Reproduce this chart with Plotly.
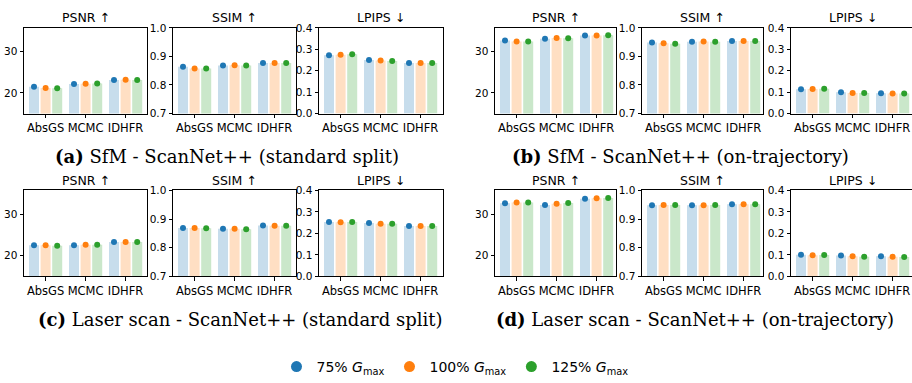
import plotly.graph_objects as go
import numpy as np

W, H = 912, 383

methods = ["AbsGS", "MCMC", "IDHFR"]
series = ["75% <i>G</i><sub>max</sub>", "100% <i>G</i><sub>max</sub>", "125% <i>G</i><sub>max</sub>"]
metrics = ["PSNR ↑", "SSIM ↑", "LPIPS ↓"]

# values per series (75%, 100%, 125%), each over the 3 methods
psnr_a = [[21.45, 22.15, 23.1], [21.2, 22.2, 23.15], [21.1, 22.25, 23.1]]
ssim_a = [[0.864, 0.868, 0.877], [0.858, 0.869, 0.877], [0.858, 0.868, 0.877]]
lpips_a = [[0.273, 0.250, 0.236], [0.275, 0.248, 0.236], [0.277, 0.246, 0.236]]

psnr_b = [[32.7, 33.1, 33.9], [32.4, 33.3, 33.85], [32.4, 33.2, 33.95]]
ssim_b = [[0.949, 0.952, 0.954], [0.946, 0.953, 0.954], [0.945, 0.952, 0.954]]
lpips_b = [[0.113, 0.100, 0.095], [0.115, 0.096, 0.094], [0.116, 0.096, 0.093]]

psnr_c = [[22.5, 22.5, 23.3], [22.5, 22.6, 23.3], [22.4, 22.6, 23.3]]
ssim_c = [[0.869, 0.866, 0.878], [0.869, 0.866, 0.877], [0.868, 0.865, 0.877]]
lpips_c = [[0.253, 0.248, 0.235], [0.252, 0.245, 0.235], [0.253, 0.245, 0.235]]

psnr_d = [[32.6, 32.2, 33.7], [32.8, 32.5, 33.8], [32.8, 32.7, 33.85]]
ssim_d = [[0.948, 0.948, 0.952], [0.949, 0.948, 0.952], [0.949, 0.949, 0.952]]
lpips_d = [[0.101, 0.097, 0.094], [0.099, 0.094, 0.092], [0.100, 0.092, 0.090]]

captions = [
    "<b>(a)</b> SfM - ScanNet++ (standard split)",
    "<b>(b)</b> SfM - ScanNet++ (on-trajectory)",
    "<b>(c)</b> Laser scan - ScanNet++ (standard split)",
    "<b>(d)</b> Laser scan - ScanNet++ (on-trajectory)",
]

panels = [
    [psnr_a, ssim_a, lpips_a],
    [psnr_b, ssim_b, lpips_b],
    [psnr_c, ssim_c, lpips_c],
    [psnr_d, ssim_d, lpips_d],
]

dark = ["#1f77b4", "#ff7f0e", "#2ca02c"]
light = ["rgba(31,119,180,0.25)", "rgba(255,127,14,0.25)", "rgba(44,160,44,0.25)"]

yranges = [[15, 35.7], [0.7, 1.0], [0.0, 0.4]]
ytickvals = [[20, 30], [0.7, 0.8, 0.9, 1.0], [0.0, 0.1, 0.2, 0.3, 0.4]]

# pixel layout
col_px = {
    0: [(24, 147), (173, 296), (319, 443)],
    1: [(495, 616), (642, 763), (791, 912)],
}
row_px = [(23, 112.5), (193, 283)]
cat_px = 40.0
left_px = 21.6

fig = go.Figure()
FONT = "DejaVu Sans"
ax_i = 0
annotations = []
for p, pdata in enumerate(panels):
    r, c = p // 2, p % 2
    for m in range(3):
        ax_i += 1
        xa = "x" if ax_i == 1 else f"x{ax_i}"
        ya = "y" if ax_i == 1 else f"y{ax_i}"
        x0, x1 = col_px[c][m]
        y0, y1 = row_px[r]
        width_px = x1 - x0
        xr = [-left_px / cat_px, -left_px / cat_px + width_px / cat_px]
        offs = [-0.29, 0.0, 0.29]
        for s in range(3):
            xs = np.arange(len(methods)) + offs[s]
            fig.add_trace(go.Bar(x=xs, y=pdata[m][s], width=0.25, marker=dict(color=light[s], line_width=0),
                                 xaxis=xa, yaxis=ya, showlegend=False, base=0))
            fig.add_trace(go.Scatter(x=xs, y=pdata[m][s], mode="markers",
                                     marker=dict(color=dark[s], size=6, line_width=0),
                                     xaxis=xa, yaxis=ya, showlegend=False))
        lay_x = dict(domain=[x0 / W, min(x1 / W, 1.0)], range=xr, anchor=ya,
                     tickvals=list(range(len(methods))), ticktext=methods,
                     showline=True, linecolor="black", linewidth=1, mirror=True,
                     ticks="outside", ticklen=3.5, tickcolor="black",
                     tickfont=dict(family=FONT, size=11.5, color="black"),
                     showgrid=False, zeroline=False, fixedrange=True)
        lay_y = dict(domain=[1 - y1 / H, 1 - y0 / H], range=yranges[m], anchor=xa,
                     tickvals=ytickvals[m], tickformat=".1f" if m > 0 else "d",
                     showline=True, linecolor="black", linewidth=1,
                     mirror=(False if x1 >= W else True),
                     ticks="outside", ticklen=3.5, tickcolor="black",
                     tickfont=dict(family=FONT, size=10.5, color="black"),
                     showgrid=False, zeroline=False, fixedrange=True)
        fig.layout["xaxis" if ax_i == 1 else f"xaxis{ax_i}"] = lay_x
        fig.layout["yaxis" if ax_i == 1 else f"yaxis{ax_i}"] = lay_y
        tx = (x0 + 61.5) / W if (c == 1 and m == 2) else (x0 + x1) / 2 / W
        annotations.append(dict(text=metrics[m], x=tx,
                                y=1 - (y0 - 10.5) / H, xref="paper", yref="paper",
                                xanchor="center", yanchor="middle", showarrow=False,
                                font=dict(family=FONT, size=12.5, color="black")))

cap_pos = [(227, 157), (680, 157), (240, 328), (695, 328)]
for t, (cx, cy) in zip(captions, cap_pos):
    annotations.append(dict(text=t, x=cx / W, y=1 - cy / H, xref="paper", yref="paper",
                            xanchor="center", yanchor="middle", showarrow=False,
                            font=dict(family="DejaVu Serif", size=18, color="black")))

for s in range(3):
    fig.add_trace(go.Scatter(x=[None], y=[None], mode="markers", name=series[s],
                             marker=dict(color=dark[s], size=11), xaxis="x", yaxis="y"))

fig.update_layout(
    width=W, height=H, margin=dict(l=0, r=0, t=0, b=0),
    paper_bgcolor="white", plot_bgcolor="white",
    barmode="overlay",
    annotations=annotations,
    showlegend=True,
    legend=dict(orientation="h", x=455 / W, y=1 - 378 / H, xanchor="center", yanchor="middle",
                font=dict(family=FONT, size=14, color="black"), bgcolor="rgba(0,0,0,0)",
                itemwidth=30, tracegroupgap=0),
)

fig.write_html("out.html")
